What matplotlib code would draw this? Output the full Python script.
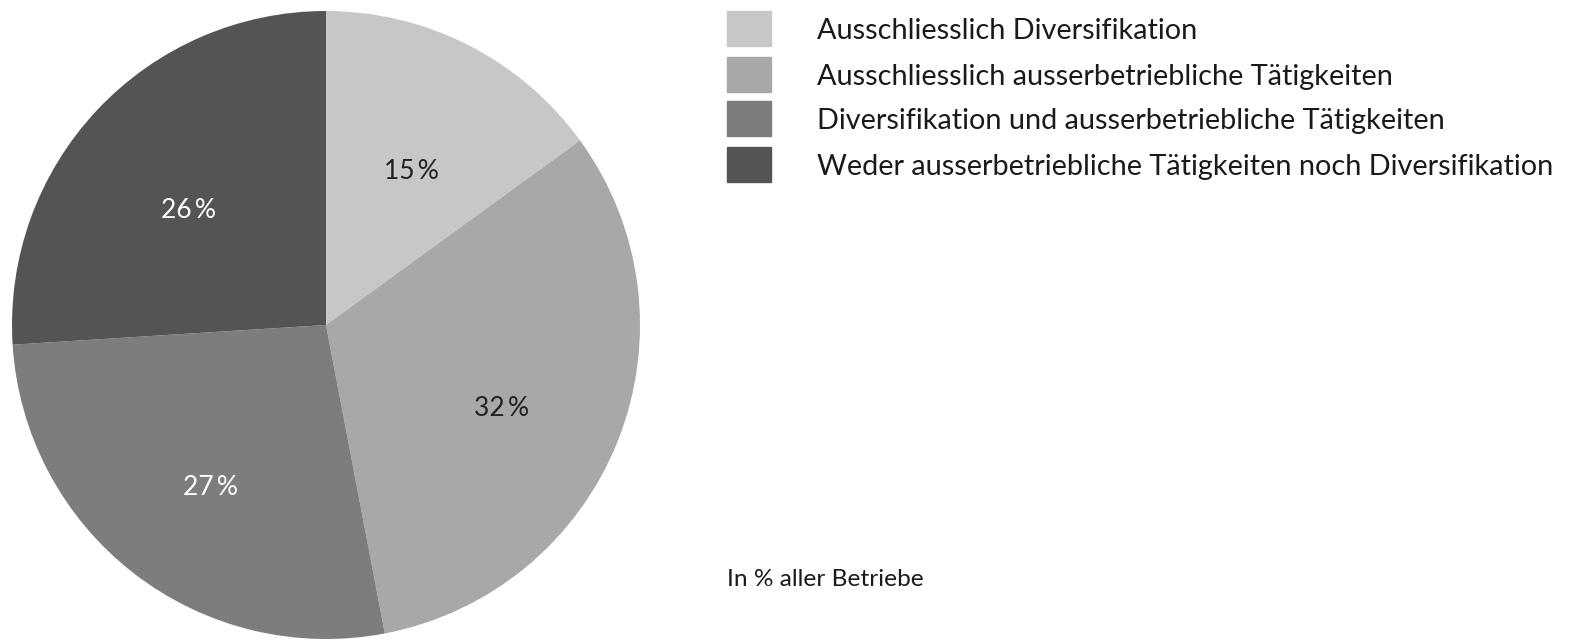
import matplotlib.pyplot as plt
from matplotlib.patches import Rectangle

categories = [
    "Ausschliesslich Diversifikation",
    "Ausschliesslich ausserbetriebliche Tätigkeiten",
    "Diversifikation und ausserbetriebliche Tätigkeiten",
    "Weder ausserbetriebliche Tätigkeiten noch Diversifikation",
]
shares = [15, 32, 27, 26]
colors = ["#c6c7c8", "#a7a8aa", "#7d7d80", "#545356"]
label_colors = ["#222222", "#222222", "white", "white"]

plt.rcParams['font.family'] = ['Lato', 'DejaVu Sans']

W, H = 1571, 640
fig = plt.figure(figsize=(W / 100, H / 100), dpi=100)

# pie: center (326, 325) px, radius 314 px
cx, cy, r = 326, 325, 314
ax = fig.add_axes([(cx - r) / W, (H - cy - r) / H, 2 * r / W, 2 * r / H])
wedges, texts, autotexts = ax.pie(
    shares, colors=colors, startangle=90, counterclock=False,
    autopct=lambda p: f"{p:.0f}\u2009%", pctdistance=0.6,
    wedgeprops=dict(linewidth=0), textprops=dict(fontsize=19))
for t, c in zip(autotexts, label_colors):
    t.set_color(c)
    x, y = t.get_position()
    t.set_position((x, y - 0.045))
ax.set_aspect('equal')
ax.set_xlim(-1, 1)
ax.set_ylim(-1, 1)

# legend, drawn by hand to match the layout
box_x, box_w, box_h = 727, 44, 35
y_centers = [28, 74, 118, 164]
for cat, col, yc in zip(categories, colors, y_centers):
    fig.patches.append(Rectangle(((box_x) / W, (H - yc - box_h / 2) / H),
                                 box_w / W, box_h / H, color=col,
                                 transform=fig.transFigure))
    fig.text(817 / W, (H - yc - 3) / H, cat, fontsize=20.8, color="#1a1a1a",
             va='center', ha='left')

fig.text(727 / W, (H - 580) / H, "In % aller Betriebe", fontsize=17.6,
         color="#1a1a1a", va='center', ha='left')

fig.savefig("out.png", dpi=100)
